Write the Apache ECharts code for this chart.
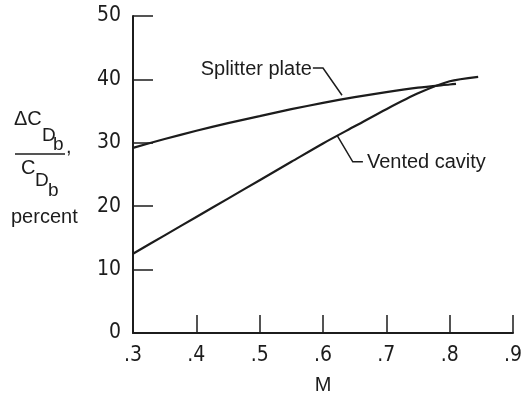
<!DOCTYPE html>
<html>
<head>
<meta charset="utf-8">
<script src="https://cdn.jsdelivr.net/npm/echarts@6/dist/echarts.min.js"></script>
<style>
  html, body { margin: 0; padding: 0; background: #fff; }
  #chart { width: 523px; height: 395px; }
</style>
</head>
<body>
<div id="chart"></div>
<script>
// Base-drag reduction vs. Mach number for two base treatments
const machSplitter = [0.30, 0.35, 0.40, 0.45, 0.50, 0.55, 0.60, 0.65, 0.70, 0.75, 0.80, 0.81];
const splitterPlate = [29.2, 30.6, 31.9, 33.1, 34.2, 35.3, 36.3, 37.2, 38.0, 38.7, 39.2, 39.3];

const machVented = [0.30, 0.35, 0.40, 0.45, 0.50, 0.55, 0.60, 0.65, 0.70, 0.75, 0.80, 0.845];
const ventedCavity = [12.5, 15.4, 18.3, 21.2, 24.1, 27.0, 29.9, 32.6, 35.3, 37.8, 39.7, 40.4];

const xTicks = [0.3, 0.4, 0.5, 0.6, 0.7, 0.8, 0.9];
const yTicks = [0, 10, 20, 30, 40, 50];

const seriesNames = ['Splitter plate', 'Vented cavity'];

// Leader-line callouts, in data coordinates
const splitterCallout = [[0.584, 41.8], [0.600, 41.8], [0.630, 37.5]];
const ventedCallout = [[0.622, 31.2], [0.647, 27.0], [0.663, 27.0]];

const FONT = '"Liberation Sans", Arial, sans-serif';
const NUM_FONT = '"Liberation Sans Narrow", "DejaVu Sans Condensed", "Liberation Sans", sans-serif';
const INK = '#1c1c1c';

const chart = echarts.init(document.getElementById('chart'), null, { renderer: 'canvas' });

function pairs(xs, ys) { return xs.map((x, i) => [x, ys[i]]); }

chart.setOption({
  animation: false,
  backgroundColor: '#ffffff',
  grid: { left: 133, right: 10, top: 16, bottom: 62, containLabel: false, outerBoundsMode: 'none' },
  xAxis: {
    type: 'value',
    min: xTicks[0], max: xTicks[xTicks.length - 1], interval: 0.1,
    name: 'M', nameLocation: 'middle', nameGap: 42,
    nameTextStyle: { fontFamily: FONT, fontSize: 20, color: INK },
    axisLine: { show: true, onZero: false, lineStyle: { color: INK, width: 2 } },
    axisTick: { show: true, inside: true, length: 18, lineStyle: { color: INK, width: 1.5 } },
    splitLine: { show: false },
    axisLabel: {
      margin: 12, fontFamily: NUM_FONT, fontSize: 21, color: INK,
      showMinLabel: true, showMaxLabel: true,
      formatter: v => v.toFixed(1).replace(/^0/, '')
    }
  },
  yAxis: {
    type: 'value',
    min: yTicks[0], max: yTicks[yTicks.length - 1], interval: 10,
    axisLine: { show: true, onZero: false, lineStyle: { color: INK, width: 2 } },
    axisTick: { show: true, inside: true, length: 20, lineStyle: { color: INK, width: 1.5 } },
    splitLine: { show: false },
    axisLabel: { margin: 12, fontFamily: NUM_FONT, fontSize: 21, color: INK }
  },
  series: [
    {
      name: seriesNames[0], type: 'line', smooth: 0.25, showSymbol: false,
      lineStyle: { color: INK, width: 2.2 },
      data: pairs(machSplitter, splitterPlate)
    },
    {
      name: seriesNames[1], type: 'line', smooth: 0.25, showSymbol: false,
      lineStyle: { color: INK, width: 2.2 },
      data: pairs(machVented, ventedCavity)
    }
  ]
});

// Callouts and the stacked y-axis title
const px = p => chart.convertToPixel({ gridIndex: 0 }, p);
const sp = splitterCallout.map(px);
const vc = ventedCallout.map(px);

const txt = (text, x, y, size, align) => ({
  type: 'text', x: x, y: y, silent: true,
  style: { text: text, fontFamily: FONT, fontSize: size || 20, fill: INK,
           align: align || 'left', verticalAlign: 'middle' }
});

chart.setOption({
  graphic: [
    { type: 'polyline', silent: true, shape: { points: sp },
      style: { stroke: INK, lineWidth: 1.5, fill: null } },
    txt(seriesNames[0], sp[0][0] - 1, sp[0][1] + 1, 20, 'right'),
    { type: 'polyline', silent: true, shape: { points: vc },
      style: { stroke: INK, lineWidth: 1.5, fill: null } },
    txt(seriesNames[1], vc[2][0] + 4, vc[2][1] + 1, 20, 'left'),

    // ΔC_{D_b}, / C_{D_b}  percent
    txt('\u0394C', 14, 119, 20),
    txt('D', 42, 136, 19),
    txt('b', 53, 145, 19),
    txt(',', 66, 147, 20),
    { type: 'line', silent: true, shape: { x1: 15, y1: 154, x2: 65, y2: 154 },
      style: { stroke: INK, lineWidth: 1.5 } },
    txt('C', 21, 168, 20),
    txt('D', 35, 181, 19),
    txt('b', 48, 191, 19),
    txt('percent', 11, 217, 20)
  ]
});
</script>
</body>
</html>
